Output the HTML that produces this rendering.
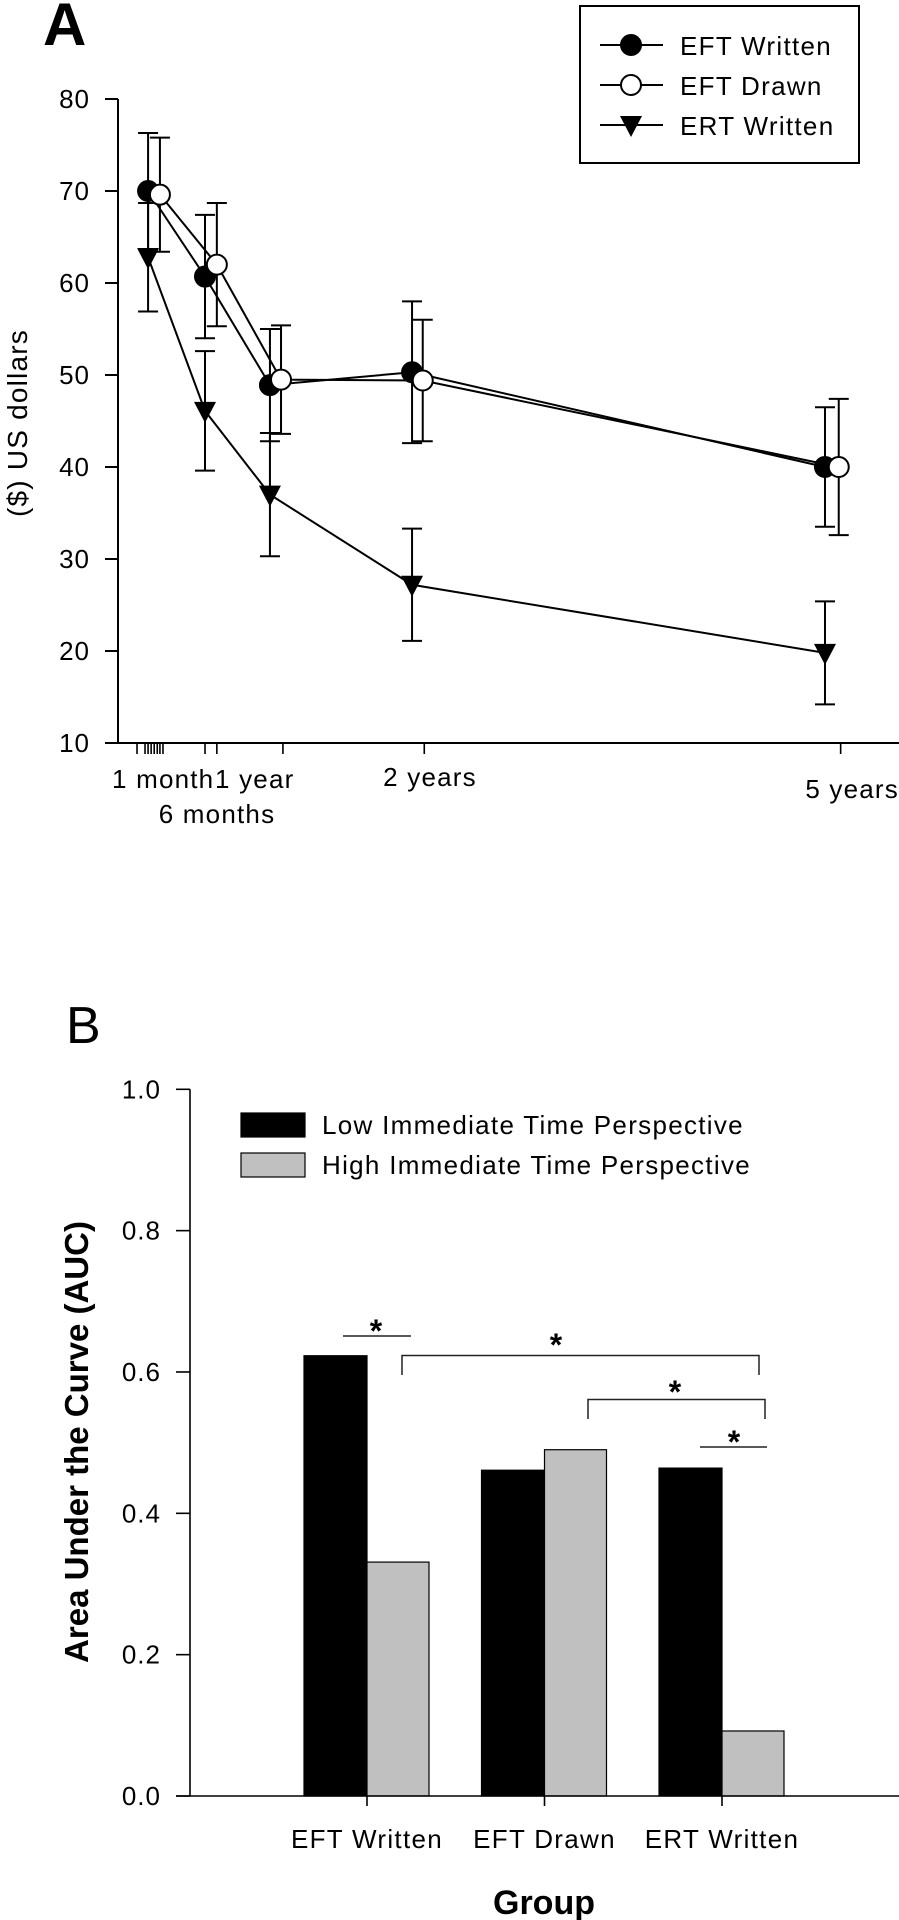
<!DOCTYPE html>
<html><head><meta charset="utf-8">
<style>
html,body{margin:0;padding:0;background:#fff;}
svg{display:block;font-family:"Liberation Sans",Arial,sans-serif;}
</style></head>
<body>
<svg id="fig" width="899" height="1920" viewBox="0 0 899 1920" xmlns="http://www.w3.org/2000/svg">
<g id="chartA"></g>
<g id="chartB"></g>
</svg>
<script>
// ---------- Panel A data ----------
const aYTicks = [10,20,30,40,50,60,70,80];
const aXTickDays = [-17,4,12,20,28,36,43,51,161,192,365,735,1825];
const aXLabels = ["1 month","6 months","1 year","2 years","5 years"];
const eftWrittenDays = [12,161,331,703,1784];
const eftWrittenVals = [70.0,60.7,48.9,50.3,40.0];
const eftWrittenErr = [6.3,6.7,6.1,7.7,6.5];
const eftDrawnDays = [43,192,360,731,1820];
const eftDrawnVals = [69.6,62.0,49.5,49.4,40.0];
const eftDrawnErr = [6.2,6.7,5.9,6.6,7.4];
const ertWrittenDays = [12,161,331,703,1784];
const ertWrittenVals = [62.8,46.1,37.0,27.2,19.8];
const ertWrittenErr = [5.9,6.5,6.7,6.1,5.6];
// ---------- Panel B data ----------
const bGroups = ["EFT Written","EFT Drawn","ERT Written"];
const bLowVals = [0.623,0.461,0.464];
const bHighVals = [0.331,0.490,0.092];
const bYTicks = ["0.0","0.2","0.4","0.6","0.8","1.0"];

const NS="http://www.w3.org/2000/svg";
function mk(parent,tag,attrs,text){const e=document.createElementNS(NS,tag);for(const k in attrs)e.setAttribute(k,attrs[k]);if(text!==undefined)e.textContent=text;parent.appendChild(e);return e;}

// ===== Panel A =====
const A=document.getElementById('chartA');
const ax=d=>143.5+0.382*d;
const ay=v=>743-(v-10)*9.2;
let t;
t=mk(A,'text',{x:43,y:45,'font-size':60,'font-weight':'bold'},'A');


let l=mk(A,'line',{x1:118,y1:ay(80),x2:118,y2:743,stroke:'#000','stroke-width':2});


l=mk(A,'line',{x1:105,y1:743,x2:899,y2:743,stroke:'#000','stroke-width':2});


aYTicks.forEach(v=>{
  const tk=mk(A,'line',{x1:105,y1:ay(v),x2:118,y2:ay(v),stroke:'#000','stroke-width':2});
  
  
  const tl=mk(A,'text',{x:90,y:ay(v)+9,'font-size':26,'text-anchor':'end','letter-spacing':1},String(v));
  
  
});
aXTickDays.forEach(d=>{
  const tk=mk(A,'line',{x1:ax(d),y1:743,x2:ax(d),y2:754,stroke:'#000','stroke-width':1.6});
  
  
});
const xlPos=[[112,788,'start'],[217,823,'middle'],[215,788,'start'],[430,786,'middle'],[899,798,'end']];
aXLabels.forEach((s,i)=>{
  const tl=mk(A,'text',{x:xlPos[i][0],y:xlPos[i][1],'font-size':26,'text-anchor':xlPos[i][2],'letter-spacing':1.2},s);
  
  
});
t=mk(A,'text',{x:0,y:0,'font-size':28,'text-anchor':'middle','letter-spacing':1.2,transform:'translate(27,423) rotate(-90)'},'($) US dollars');



const series=[
 {name:'eft-written',days:eftWrittenDays,vals:eftWrittenVals,err:eftWrittenErr,m:'fill'},
 {name:'eft-drawn',days:eftDrawnDays,vals:eftDrawnVals,err:eftDrawnErr,m:'open'},
 {name:'ert-written',days:ertWrittenDays,vals:ertWrittenVals,err:ertWrittenErr,m:'tri'}
];
function marker(g,type,x,y){
  let e;
  if(type==='tri'){e=mk(g,'path',{d:`M${x-11},${y-9} L${x+11},${y-9} L${x},${y+12} Z`,fill:'#000'});}
  else e=mk(g,'circle',{cx:x,cy:y,r:10,fill:type==='fill'?'#000':'#fff',stroke:'#000','stroke-width':2});
  return e;
}
series.forEach(s=>{
  const g=mk(A,'g',{});
  
  
  const pts=s.days.map((d,i)=>ax(d)+','+ay(s.vals[i])).join(' ');
  const pl=mk(g,'polyline',{points:pts,fill:'none',stroke:'#000','stroke-width':2});
  
  
  s.days.forEach((d,i)=>{
    const x=ax(d),y1=ay(s.vals[i]+s.err[i]),y2=ay(s.vals[i]-s.err[i]);
    const eb=mk(g,'path',{d:`M${x},${y1} L${x},${y2} M${x-10},${y1} L${x+10},${y1} M${x-10},${y2} L${x+10},${y2}`,stroke:'#000','stroke-width':2,fill:'none'});
    
    
  });
});
series.forEach(s=>{
  s.days.forEach((d,i)=>{
    const mm=marker(A,s.m,ax(d),ay(s.vals[i]));
    
    
  });
});
// legend A
const lg=mk(A,'g',{});


mk(lg,'rect',{x:580,y:6,width:279,height:157,fill:'#fff',stroke:'#000','stroke-width':2});
const legNames=['EFT Written','EFT Drawn','ERT Written'];
series.forEach((s,i)=>{
  const y=45+40*i;
  const le=mk(lg,'g',{});
  
  
  mk(le,'line',{x1:600,y1:y,x2:663,y2:y,stroke:'#000','stroke-width':2});
  marker(le,s.m,631,y);
  mk(le,'text',{x:680,y:y+10,'font-size':26,'letter-spacing':1.3},legNames[i]);
});

// ===== Panel B =====
const B=document.getElementById('chartB');
const by=v=>1796-v*706.7;
const bx=i=>367+i*177.5;
t=mk(B,'text',{x:66,y:1043,'font-size':52},'B');


bLowVals.forEach((v,i)=>{
  const r=mk(B,'rect',{x:bx(i)-63,y:by(v),width:63,height:by(0)-by(v),fill:'#000',stroke:'#000','stroke-width':1.2});
  
  
});
bHighVals.forEach((v,i)=>{
  const r=mk(B,'rect',{x:bx(i),y:by(v),width:62,height:by(0)-by(v),fill:'#c0c0c0',stroke:'#000','stroke-width':1.2});
  
  
});
l=mk(B,'line',{x1:190,y1:by(1),x2:190,y2:1796,stroke:'#000','stroke-width':1.6});


l=mk(B,'line',{x1:176,y1:1796,x2:899,y2:1796,stroke:'#000','stroke-width':1.6});


bYTicks.forEach(s=>{
  const v=parseFloat(s);
  const tk=mk(B,'line',{x1:176,y1:by(v),x2:190,y2:by(v),stroke:'#000','stroke-width':1.6});
  
  
  const tl=mk(B,'text',{x:161,y:by(v)+9,'font-size':26,'text-anchor':'end','letter-spacing':1},s);
  
  
});
bGroups.forEach((s,i)=>{
  const tk=mk(B,'line',{x1:bx(i),y1:1796,x2:bx(i),y2:1806,stroke:'#000','stroke-width':1.6});
  
  
  const tl=mk(B,'text',{x:bx(i),y:1848,'font-size':26,'text-anchor':'middle','letter-spacing':1.3},s);
  
  
});
t=mk(B,'text',{x:544,y:1914,'font-size':34,'font-weight':'bold','text-anchor':'middle'},'Group');


t=mk(B,'text',{x:0,y:0,'font-size':33,'font-weight':'bold','text-anchor':'middle',transform:'translate(88,1442) rotate(-90)'},'Area Under the Curve (AUC)');


// legend B
const lb=mk(B,'g',{});


mk(lb,'rect',{x:241,y:1113,width:64,height:24,fill:'#000',stroke:'#000','stroke-width':1.2});
mk(lb,'text',{x:322,y:1134,'font-size':26,'letter-spacing':1.3},'Low Immediate Time Perspective');
mk(lb,'rect',{x:241,y:1153,width:64,height:24,fill:'#c0c0c0',stroke:'#000','stroke-width':1.2});
mk(lb,'text',{x:322,y:1174,'font-size':26,'letter-spacing':1.3},'High Immediate Time Perspective');
// significance markers
const sig=[
 {d:'M343,1336 L411,1336',sx:376,sy:1326},
 {d:'M402,1375 L402,1355.5 L759,1355.5 L759,1375',sx:556,sy:1340},
 {d:'M588,1419 L588,1399.5 L765,1399.5 L765,1419',sx:675,sy:1387},
 {d:'M700,1447 L767,1447',sx:734,sy:1437}
];
sig.forEach(s=>{
  const g=mk(B,'g',{});
  
  
  mk(g,'path',{d:s.d,fill:'none',stroke:'#222','stroke-width':1.5});
  mk(g,'text',{x:s.sx,y:s.sy+16,'font-size':32,'font-weight':'bold','text-anchor':'middle'},'*');
});
</script>
</body></html>
